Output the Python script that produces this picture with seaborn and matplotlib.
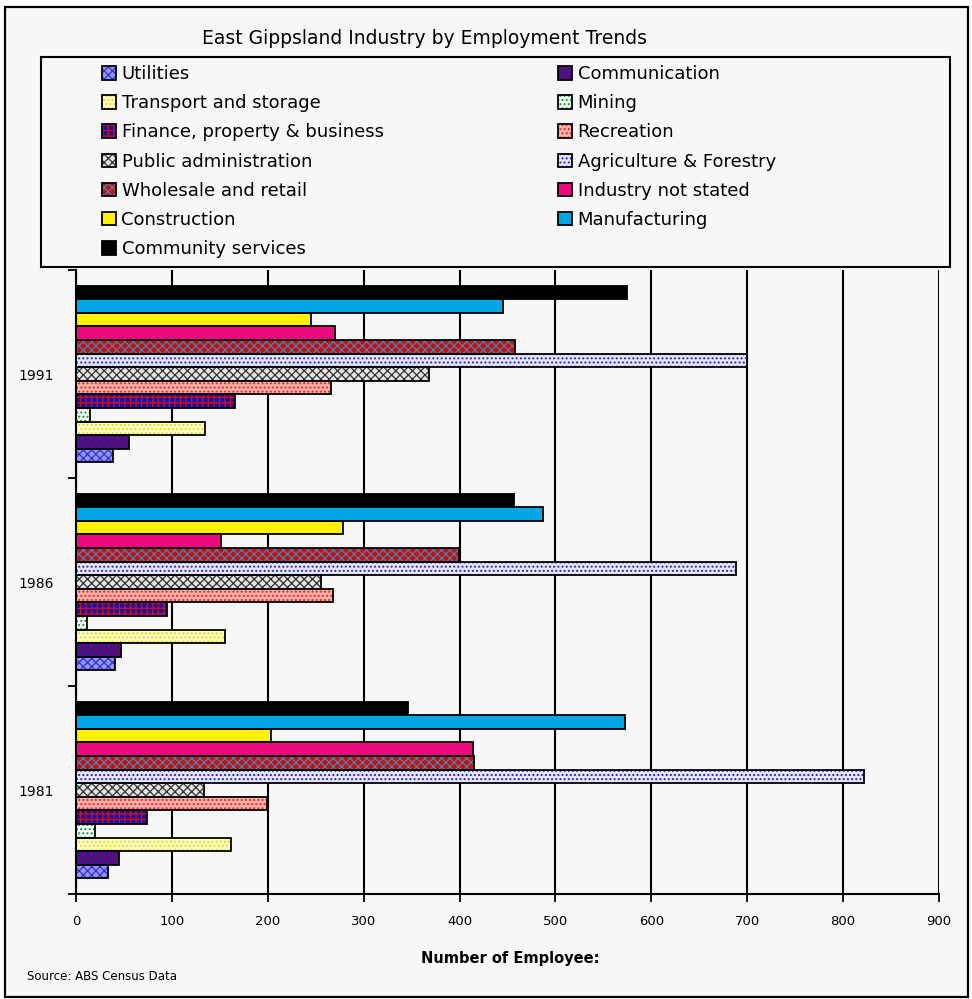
import matplotlib
matplotlib.use("Agg")
import matplotlib.pyplot as plt
from matplotlib.patches import Rectangle, Patch
import numpy as np
import pandas as pd
import seaborn as sns

# ---- data -----------------------------------------------------------------
industries = [
    "Utilities", "Communication", "Transport and storage", "Mining",
    "Finance, property & business", "Recreation", "Public administration",
    "Agriculture & Forestry", "Wholesale and retail", "Industry not stated",
    "Construction", "Manufacturing", "Community services",
]
years = ["1991", "1986", "1981"]
employees_1981 = [33, 45, 162, 20, 74, 199, 133, 822, 415, 414, 203, 573, 346]
employees_1986 = [41, 47, 155, 11, 95, 268, 256, 688, 399, 151, 278, 487, 457]
employees_1991 = [39, 55, 135, 15, 166, 266, 368, 700, 458, 270, 245, 445, 575]
x_ticks = [0, 100, 200, 300, 400, 500, 600, 700, 800, 900]

# fill colour, hatch pattern, hatch colour for each industry
face_colors = ["#9494ff", "#6a0a6a", "#ffffc8", "#f0fff0", "#1a10a8", "#ffb0a8",
               "#e4e4e4", "#e4e4ff", "#c41010", "#ee0a7e", "#fff200", "#00a6e6",
               "#000000"]
hatches = ["xxxx", "xxxx", "....", "....", "+++", "....", "xxxx", "....", "xxxx",
           "", "", "", ""]
hatch_colors = ["#3030d8", "#2020a0", "#e8d800", "#109030", "#d01010", "#e82020",
                "#303030", "#2020c0", "#5080b0", "#ee0a7e", "#fff200", "#00a6e6",
                "#000000"]

values = {"1981": employees_1981, "1986": employees_1986, "1991": employees_1991}
df = pd.DataFrame(
    [(y, ind, v) for y in years for ind, v in zip(industries, values[y])],
    columns=["year", "industry", "employees"],
)

# ---- figure ---------------------------------------------------------------
BG = "#f7f7f7"
sns.set_theme(style="white")
plt.rcParams["font.family"] = ["DejaVu Sans"]
plt.rcParams["hatch.linewidth"] = 0.9
for key in ("text.color", "axes.labelcolor", "xtick.color", "ytick.color"):
    plt.rcParams[key] = "black"

W, H = 972, 999
fig = plt.figure(figsize=(W / 100, H / 100), dpi=100, facecolor="white")

def fx(px):
    return px / W

def fy(py):
    return 1 - py / H

# outer frame
fig.patches.append(Rectangle((fx(5), fy(997)), fx(968) - fx(5), fy(7) - fy(997),
                             transform=fig.transFigure, facecolor=BG,
                             edgecolor="black", linewidth=1.6, zorder=-5))

ax = fig.add_axes([fx(76), fy(894), fx(939) - fx(76), fy(270) - fy(894)])
ax.set_facecolor("none")
ax.set_zorder(1)

order_hue = industries[::-1]          # top bar in each group first
palette = dict(zip(industries, face_colors))
sns.barplot(data=df, x="employees", y="year", hue="industry", order=years,
            hue_order=order_hue, orient="h", width=0.85, palette=palette,
            saturation=1, legend=False, ax=ax)

style = {ind: (fc, h, hc) for ind, fc, h, hc in
         zip(industries, face_colors, hatches, hatch_colors)}
for container, ind in zip(ax.containers, order_hue):
    fc, h, hc = style[ind]
    for bar in container:
        bar.set_facecolor(fc)
        bar.set_hatch(h)
        bar.set_edgecolor(hc)
        bar.set_linewidth(0)
        bar.set_zorder(2)
        x0, y0 = bar.get_xy()
        ax.add_patch(Rectangle((x0, y0), bar.get_width(), bar.get_height(),
                               fill=False, edgecolor="black", linewidth=1.3,
                               zorder=3))

ax.set_xlim(0, 900)
ax.set_xticks(x_ticks)
ax.set_xticklabels([str(t) for t in x_ticks], fontsize=9.5)
ax.xaxis.grid(True, color="black", linewidth=1.5)
ax.set_axisbelow(True)
ax.tick_params(axis="x", direction="out", length=6, width=1.3, color="black",
               pad=9, bottom=True)
ax.set_yticks(range(len(years)))
ax.set_yticklabels(years, fontsize=10)
ax.tick_params(axis="y", which="major", length=0, pad=16)
ax.set_yticks([-0.5, 0.5, 1.5, 2.5], minor=True)
ax.tick_params(axis="y", which="minor", direction="out", length=6, width=1.3,
               color="black", left=True)
for side in ("top", "right"):
    ax.spines[side].set_visible(False)
for side in ("left", "bottom"):
    ax.spines[side].set_color("black")
    ax.spines[side].set_linewidth(1.5)
ax.set_xlabel("")
ax.set_ylabel("")

# ---- legend ---------------------------------------------------------------
fig.patches.append(Rectangle((fx(41), fy(267)), fx(950) - fx(41), fy(57) - fy(267),
                             transform=fig.transFigure, facecolor=BG,
                             edgecolor="black", linewidth=1.5, zorder=4))

def handle(ind):
    fc, h, hc = style[ind]
    return (Patch(facecolor=fc, hatch=h, edgecolor=hc, linewidth=0),
            Patch(fill=False, edgecolor="black", linewidth=1.3))

col1 = industries[0::2]
col2 = industries[1::2]
leg_kw = dict(loc="upper left", frameon=False, fontsize=13, handlelength=0.78,
              handleheight=0.78, handletextpad=0.3, labelspacing=0.62,
              borderpad=0, borderaxespad=0)
leg1 = fig.legend([handle(i) for i in col1], col1,
                  bbox_to_anchor=(fx(102), fy(65)), **leg_kw)
leg2 = fig.legend([handle(i) for i in col2], col2,
                  bbox_to_anchor=(fx(558), fy(65)), **leg_kw)
for leg in (leg1, leg2):
    leg.set_zorder(5)

# ---- texts ----------------------------------------------------------------
fig.text(fx(424), fy(38), "East Gippsland Industry by Employment Trends",
         ha="center", va="center", fontsize=13.5)
fig.text(fx(510), fy(959), "Number of Employee:", ha="center", va="center",
         fontsize=10.5, fontweight="heavy")
fig.text(fx(27), fy(977), "Source: ABS Census Data", ha="left", va="center",
         fontsize=8.5)

fig.savefig("out.png", dpi=100, facecolor="white")
